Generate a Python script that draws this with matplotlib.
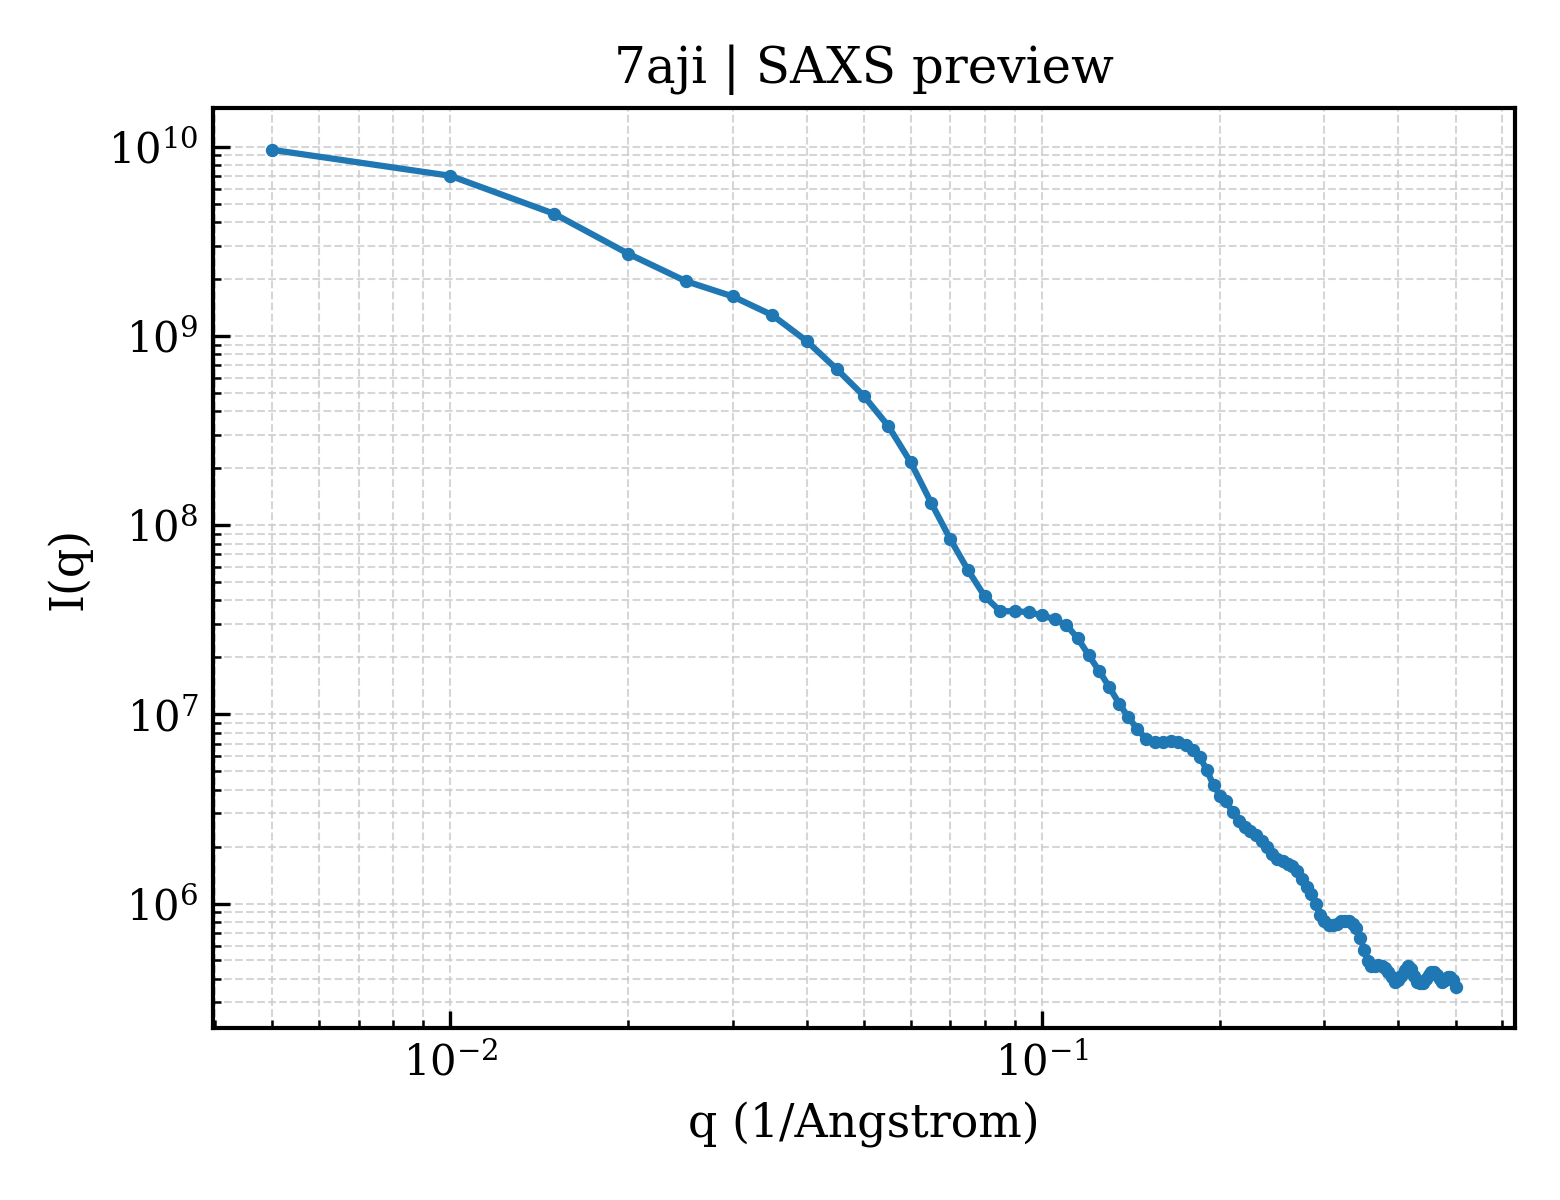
import numpy as np
import matplotlib
matplotlib.use("Agg")
import matplotlib.pyplot as plt

plt.rcParams["font.family"] = "DejaVu Serif"
plt.rcParams["mathtext.fontset"] = "dejavuserif"

# scattering vector q (1/Angstrom)
q = [0.005, 0.010, 0.015, 0.020, 0.025, 0.030, 0.035, 0.040, 0.045, 0.050,
     0.055, 0.060, 0.065, 0.070, 0.075, 0.080, 0.085, 0.090, 0.095, 0.100,
     0.105, 0.110, 0.115, 0.120, 0.125, 0.130, 0.135, 0.140, 0.145, 0.150,
     0.155, 0.160, 0.165, 0.170, 0.175, 0.180, 0.185, 0.190, 0.195, 0.200,
     0.205, 0.210, 0.215, 0.220, 0.225, 0.230, 0.235, 0.240, 0.245, 0.250,
     0.255, 0.260, 0.265, 0.270, 0.275, 0.280, 0.285, 0.290, 0.295, 0.300,
     0.305, 0.310, 0.315, 0.320, 0.325, 0.330, 0.335, 0.340, 0.345, 0.350,
     0.355, 0.360, 0.365, 0.370, 0.375, 0.380, 0.385, 0.390, 0.395, 0.400,
     0.405, 0.410, 0.415, 0.420, 0.425, 0.430, 0.435, 0.440, 0.445, 0.450,
     0.455, 0.460, 0.465, 0.470, 0.475, 0.480, 0.485, 0.490, 0.495, 0.500]

# intensity I(q)
intensity = [9.64e9, 7.03e9, 4.42e9, 2.72e9, 1.95e9, 1.62e9, 1.29e9, 9.42e8, 6.68e8, 4.82e8,
             3.34e8, 2.15e8, 1.31e8, 8.43e7, 5.78e7, 4.21e7, 3.51e7, 3.51e7, 3.47e7, 3.34e7,
             3.18e7, 2.96e7, 2.52e7, 2.05e7, 1.69e7, 1.39e7, 1.14e7, 9.64e6, 8.34e6, 7.38e6,
             7.11e6, 7.11e6, 7.19e6, 7.11e6, 6.86e6, 6.46e6, 5.92e6, 5.06e6, 4.21e6, 3.72e6,
             3.47e6, 3.03e6, 2.72e6, 2.55e6, 2.43e6, 2.29e6, 2.13e6, 1.98e6, 1.82e6, 1.71e6,
             1.67e6, 1.61e6, 1.57e6, 1.48e6, 1.34e6, 1.22e6, 1.12e6, 9.89e5, 8.75e5, 8.04e5,
             7.66e5, 7.66e5, 7.83e5, 8.04e5, 8.13e5, 8.04e5, 7.83e5, 7.46e5, 6.61e5, 5.71e5,
             4.99e5, 4.70e5, 4.70e5, 4.75e5, 4.70e5, 4.58e5, 4.37e5, 4.11e5, 3.86e5, 3.92e5,
             4.16e5, 4.48e5, 4.70e5, 4.53e5, 4.16e5, 3.86e5, 3.78e5, 3.78e5, 4.01e5, 4.21e5,
             4.37e5, 4.32e5, 4.21e5, 4.01e5, 3.86e5, 3.96e5, 4.11e5, 4.11e5, 3.96e5, 3.64e5]

fig, ax = plt.subplots(figsize=(5.2, 4), dpi=300)
fig.subplots_adjust(left=0.1365, right=0.971, top=0.91, bottom=0.143)

ax.plot(q, intensity, color="tab:blue", linewidth=1.5, marker="o", markersize=2.2)
ax.set_xscale("log")
ax.set_yscale("log")

ax.grid(True, which="both", linestyle="--", linewidth=0.5, color="#cccccc", alpha=0.8)
ax.tick_params(which="both", direction="in")
ax.tick_params(which="major", length=4, labelsize=10)
ax.tick_params(which="minor", length=2)
for s in ax.spines.values():
    s.set_linewidth(1.0)

ax.set_xlabel("q (1/Angstrom)", fontsize=11)
ax.set_ylabel("I(q)", fontsize=11)
ax.set_title("7aji | SAXS preview", fontsize=12)

fig.savefig("out.png", dpi=300)
